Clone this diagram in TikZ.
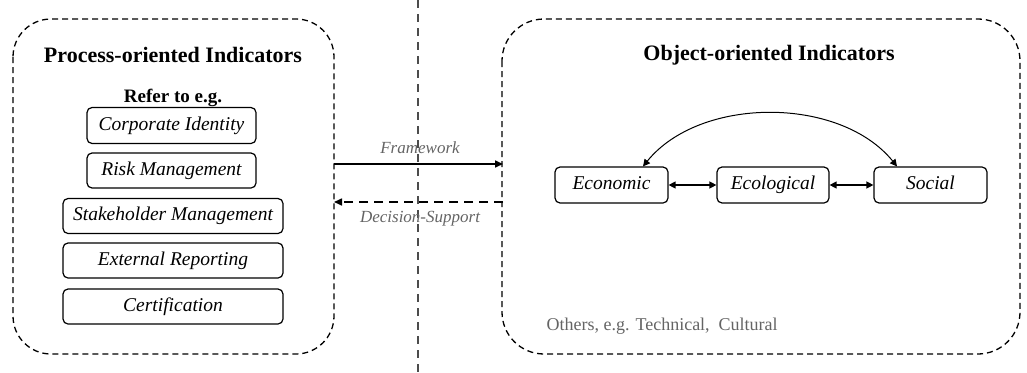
\documentclass[tikz,border=0pt]{standalone}
\usepackage{fontspec}
\setmainfont{Liberation Serif}
\usetikzlibrary{arrows.meta}
\definecolor{labelgray}{RGB}{100,100,100}
\tikzset{
  x=1pt, y=-1pt,
  group/.style={draw, line width=1.3pt, dash pattern=on 6pt off 4pt, rounded corners=38pt},
  item/.style={draw, line width=1.2pt, rounded corners=5pt, inner sep=0pt,
    text height=13.5pt, text depth=4pt,
    font=\fontsize{19.5}{22}\selectfont\itshape},
  title/.style={font=\fontsize{22}{25}\selectfont\bfseries},
  flowlabel/.style={font=\fontsize{17}{19}\selectfont\itshape, text=labelgray},
  tip/.style={-{Triangle[length=8pt,width=7pt]}},
  dtip/.style={{Triangle[length=7pt,width=7pt]}-{Triangle[length=7pt,width=7pt]}},
}
\begin{document}
\begin{tikzpicture}
\useasboundingbox (0,0) rectangle (1027,372);

% separator between the two indicator families
\draw[line width=1.3pt, dash pattern=on 8pt off 6pt, black!70] (418,0) -- (418,372);

% process-oriented group
\draw[group] (13,19) rectangle (334,354);
\node[title] (ptitle) at (173,55) {Process-oriented Indicators};
\node[font=\fontsize{19}{21}\selectfont\bfseries] (refer) at (173,98) {Refer to e.g.};
\node[item, minimum width=169pt, minimum height=36pt] (ci) at (171.5,125.5) {Corporate Identity};
\node[item, minimum width=169pt, minimum height=35pt] (rm) at (171.5,170.5) {Risk Management};
\node[item, minimum width=220pt, minimum height=35pt] (sm) at (173,216) {Stakeholder Management};
\node[item, minimum width=220pt, minimum height=35pt] (er) at (173,260.5) {External Reporting};
\node[item, minimum width=220pt, minimum height=35pt] (ce) at (173,306.5) {Certification};

% object-oriented group
\draw[group, rounded corners=42pt] (502,19) rectangle (1020,354);
\node[title] (otitle) at (769,55) {Object-oriented Indicators};
\node[item, minimum width=113pt, minimum height=36pt] (eco) at (611.5,185) {Economic};
\node[item, minimum width=112pt, minimum height=36pt] (ecl) at (773,185) {Ecological};
\node[item, minimum width=113pt, minimum height=36pt] (soc) at (930.5,185) {Social};
\node[font=\fontsize{18}{20}\selectfont, text=labelgray, anchor=west] (others) at (543,326) {Others, e.g. Technical, \ Cultural};

\draw[dtip, line width=1.3pt] (eco) -- (ecl);
\draw[dtip, line width=1.3pt] (ecl) -- (soc);
\coordinate (arcL) at ([xshift=31.5pt]eco.north);
\coordinate (arcR) at ([xshift=-33.5pt]soc.north);
\draw[dtip, line width=1pt] (arcL) .. controls (700,96) and (840,96) .. (arcR);

% links between the groups
\coordinate (fwL) at (334,164);
\coordinate (fwR) at (503,164);
\coordinate (dsL) at (334,202);
\coordinate (dsR) at (503,202);
\draw[tip, line width=1.6pt] (fwL) -- (fwR);
\draw[tip, line width=1.6pt, dash pattern=on 9pt off 6pt] (dsR) -- (dsL);
\node[flowlabel] (fw) at (420,148) {Framework};
\node[flowlabel] (ds) at (420,219) {Decision-Support};
\end{tikzpicture}
\end{document}
